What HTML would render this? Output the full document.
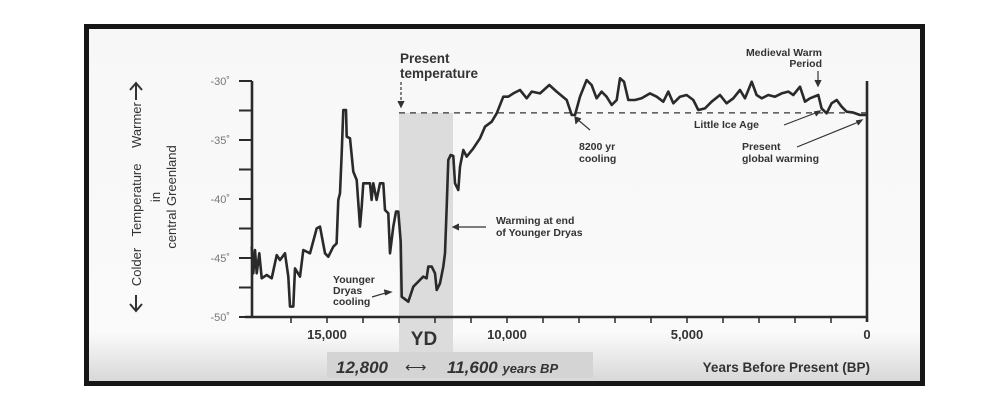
<!DOCTYPE html>
<html><head><meta charset="utf-8"><style>
html,body{margin:0;padding:0;background:#fff;}
svg{display:block;font-family:"Liberation Sans",Arial,sans-serif;}
</style></head><body>
<svg width="1000" height="400" viewBox="0 0 1000 400">
<defs>
<linearGradient id="bg" x1="0" y1="0" x2="0" y2="1">
<stop offset="0" stop-color="#f7f7f7"/><stop offset="0.86" stop-color="#fafafa"/><stop offset="1" stop-color="#d6d6d6"/>
</linearGradient>
</defs>
<rect x="0" y="0" width="1000" height="400" fill="#fff"/>
<rect x="86.5" y="26.5" width="836" height="357" fill="url(#bg)" stroke="#161616" stroke-width="5"/>
<g id="yd"></g>
<rect x="327" y="352" width="266" height="26" fill="#d4d4d4"/>
<text x="336" y="373" font-size="17" font-style="italic" font-weight="bold" fill="#333">12,800</text>
<text x="405" y="372" font-size="15" fill="#333">⟷</text>
<text x="447" y="373" font-size="17" font-style="italic" font-weight="bold" fill="#333">11,600 <tspan font-size="13">years BP</tspan></text>
<text x="424" y="345" font-size="19" font-weight="bold" fill="#333" text-anchor="middle">YD</text>
<g id="axes"></g>
<path id="series" fill="none" stroke="#2a2a2a" stroke-width="2.6" stroke-linejoin="round"/>
<g fill="#333" font-size="13">
<text transform="translate(141,125) rotate(-90)" text-anchor="middle">Warmer</text>
<text transform="translate(141,200) rotate(-90)" text-anchor="middle">Temperature</text>
<text transform="translate(141,267) rotate(-90)" text-anchor="middle">Colder</text>
<text transform="translate(160,197) rotate(-90)" text-anchor="middle">in</text>
<text transform="translate(176,197) rotate(-90)" text-anchor="middle">central Greenland</text>
<path d="M136,100 V84 M130,90 L136,83 L142,90" stroke="#333" stroke-width="2" fill="none"/>
<path d="M136,295 V310 M130,304 L136,311 L142,304" stroke="#333" stroke-width="2" fill="none"/>
</g>
<g fill="#333" font-weight="bold">
<text x="400" y="63" font-size="13.5">Present</text>
<text x="400" y="78" font-size="13.5">temperature</text>
<text x="822" y="56" font-size="10.5" text-anchor="end">Medieval Warm</text>
<text x="822" y="67" font-size="10.5" text-anchor="end">Period</text>
<text x="694" y="128" font-size="10.5">Little Ice Age</text>
<text x="579" y="150" font-size="10.5">8200 yr</text>
<text x="579" y="162" font-size="10.5">cooling</text>
<text x="742" y="150" font-size="10.5">Present</text>
<text x="742" y="162" font-size="10.5">global warming</text>
<text x="496" y="224" font-size="10.5">Warming at end</text>
<text x="496" y="236" font-size="10.5">of Younger Dryas</text>
<text x="333" y="283" font-size="10.5">Younger</text>
<text x="333" y="294" font-size="10.5">Dryas</text>
<text x="333" y="305" font-size="10.5">cooling</text>
<text x="870" y="372" font-size="13.5" text-anchor="end">Years Before Present (BP)</text>
</g>
<g stroke="#333" stroke-width="1.2" fill="none">
<path d="M401,82 V103" stroke-dasharray="3,2"/><path d="M398,101 L401,107 L404,101" fill="#333"/>
<path d="M818,71 V83"/><path d="M815,80 L818,86 L821,80" fill="#333"/>
<path d="M784,125 L818,112"/><path d="M814,112 L820,111 L816,116" fill="#333"/>
<path d="M797,147 L861,121"/><path d="M856,121 L862,120 L858,125" fill="#333"/>
<path d="M590,130 L577,119"/><path d="M576,124 L575,117 L581,119" fill="#333"/>
<path d="M486,227 L455,227"/><path d="M459,224 L453,227 L459,230" fill="#333"/>
<path d="M372,297 L389,292"/><path d="M384,290 L391,292 L385,295" fill="#333"/>
</g>
<script>
const years=[17093,17046,17000,16954,16880,16815,16676,16537,16398,16306,16167,16074,16028,15935,15889,15750,15657,15472,15287,15194,15056,14963,14824,14732,14685,14639,14593,14546,14472,14454,14361,14269,14176,14084,14037,13991,13806,13760,13713,13621,13528,13435,13389,13297,13250,13158,13083,13019,12954,12926,12741,12602,12417,12324,12232,12186,12093,12000,11954,11861,11769,11722,11676,11630,11565,11491,11445,11352,11306,11213,11120,10936,10750,10611,10426,10287,10102,9963,9824,9639,9454,9315,9083,8825,8621,8343,8204,8112,7973,7788,7649,7510,7371,7232,7093,6954,6862,6750,6630,6445,6260,6028,5843,5658,5519,5380,5195,5010,4825,4686,4501,4316,4084,3899,3714,3528,3390,3204,3066,2926,2741,2556,2371,2186,2047,1862,1723,1584,1353,1260,1121,982,843,704,566,380,195,0];
const temps=[-44.04,-46.3,-44.32,-46.3,-44.6,-46.72,-46.44,-46.72,-44.75,-45.17,-44.6,-46.58,-49.12,-49.12,-45.88,-46.58,-44.32,-44.6,-42.49,-42.34,-44.6,-44.89,-44.04,-43.76,-40.08,-39.52,-36.13,-32.46,-32.46,-34.72,-34.86,-37.68,-38.39,-42.34,-40.65,-38.67,-38.67,-40.08,-38.67,-40.08,-38.67,-38.67,-40.93,-41.21,-44.6,-42.34,-41.07,-41.07,-43.62,-48.28,-48.7,-47.43,-46.86,-46.58,-46.72,-45.73,-45.73,-46.3,-47.71,-47.15,-45.73,-44.6,-40.65,-36.69,-36.27,-36.36,-38.67,-39.24,-37.26,-35.85,-36.41,-35.71,-34.86,-33.87,-33.45,-32.74,-31.33,-31.33,-31.05,-30.76,-31.47,-30.9,-31.05,-30.34,-30.9,-31.61,-32.88,-32.88,-31.33,-29.92,-30.34,-31.47,-30.9,-31.33,-32.03,-31.61,-29.77,-30.06,-31.61,-31.61,-31.47,-31.05,-31.33,-31.75,-30.9,-31.89,-31.33,-31.19,-31.61,-32.46,-32.32,-31.75,-31.19,-31.89,-31.47,-30.76,-31.47,-30.06,-31.19,-31.47,-31.19,-31.33,-31.05,-30.9,-31.19,-30.48,-31.75,-31.47,-31.19,-32.32,-32.74,-31.89,-31.61,-32.18,-32.6,-32.68,-32.88,-32.88];
const yTickValues=[-30,-35,-40,-45,-50];
const yTickLabels=["-30˚","-35˚","-40˚","-45˚","-50˚"];
const xTickValues=[15000,10000,5000,0];
const xTickLabels=["15,000","10,000","5,000","0"];
const ydRange=[13000,11500];
const presentTemp=-32.7;
const NS="http://www.w3.org/2000/svg";
const xs=yr=>867-yr*0.036;
const ys=t=>81+(-30-t)*11.8;
function mk(tag,attrs,parent){const e=document.createElementNS(NS,tag);for(const k in attrs)e.setAttribute(k,attrs[k]);parent.appendChild(e);return e;}
const yd=document.getElementById('yd');
const band=mk('rect',{x:xs(ydRange[0]),y:ys(presentTemp),width:xs(ydRange[1])-xs(ydRange[0]),height:352-ys(presentTemp),fill:'#dcdcdc'},yd);


const ax=document.getElementById('axes');
const dash=mk('line',{x1:xs(ydRange[0]),x2:xs(0),y1:ys(presentTemp),y2:ys(presentTemp),stroke:'#333','stroke-width':1.2,'stroke-dasharray':'6,5'},ax);


const xa=mk('path',{d:`M245,${ys(-50)} H${xs(0)} M252,${ys(-30)} V${ys(-50)} M${xs(0)},${ys(-30)} V${ys(-50)+5}`,stroke:'#2a2a2a','stroke-width':2.6,fill:'none'},ax);


for(let t=-30;t>=-50;t-=2.5){
 const tk=mk('line',{x1:239,x2:252,y1:ys(t),y2:ys(t),stroke:'#2a2a2a','stroke-width':2},ax);
 
 
}
yTickValues.forEach((v,i)=>{
 const l=mk('text',{x:230,y:ys(v)+4,'font-size':11,fill:'#777','text-anchor':'end'},ax);
 l.textContent=yTickLabels[i];
 
 
});
for(let yr=1000;yr<=16000;yr+=1000){
 const tk=mk('line',{x1:xs(yr),x2:xs(yr),y1:ys(-50),y2:ys(-50)+6,stroke:'#2a2a2a','stroke-width':1.5},ax);
 
 
}
xTickValues.forEach((v,i)=>{
 const l=mk('text',{x:xs(v),y:339,'font-size':13,'font-weight':'bold',fill:'#333','text-anchor':'middle'},ax);
 l.textContent=xTickLabels[i];
 
 
});
document.getElementById('series').setAttribute('d',years.map((y,i)=>(i?'L':'M')+xs(y).toFixed(1)+','+ys(temps[i]).toFixed(1)).join(' '));
</script>
</svg>
</body></html>
